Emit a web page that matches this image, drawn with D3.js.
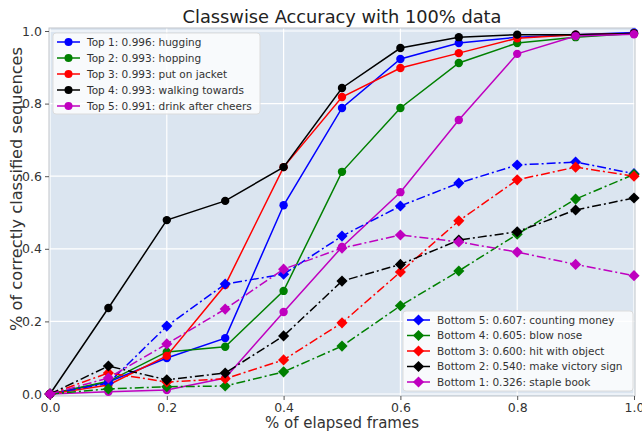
<!DOCTYPE html>
<html><head><meta charset="utf-8">
<script src="https://cdn.jsdelivr.net/npm/d3@7"></script>
<style>body{margin:0;background:#fff}svg{display:block;font-family:"DejaVu Sans",sans-serif}</style>
</head><body><svg id="c" width="642" height="433"></svg>
<script>
const xs = [0,0.1,0.2,0.3,0.4,0.5,0.6,0.7,0.8,0.9,1.0];
const topNames = ["Top 1: 0.996: hugging","Top 2: 0.993: hopping","Top 3: 0.993: put on jacket","Top 4: 0.993: walking towards","Top 5: 0.991: drink after cheers"];
const top1 = [0,0.033,0.099,0.154,0.52,0.788,0.923,0.967,0.983,0.99,0.996];
const top2 = [0,0.035,0.116,0.13,0.284,0.612,0.788,0.912,0.967,0.983,0.993];
const top3 = [0,0.025,0.105,0.30,0.625,0.818,0.898,0.939,0.98,0.99,0.993];
const top4 = [0,0.237,0.479,0.532,0.625,0.843,0.953,0.983,0.99,0.99,0.993];
const top5 = [0,0.006,0.011,0.044,0.226,0.405,0.556,0.755,0.937,0.986,0.991];
const botNames = ["Bottom 5: 0.607: counting money","Bottom 4: 0.605: blow nose","Bottom 3: 0.600: hit with object","Bottom 2: 0.540: make victory sign","Bottom 1: 0.326: staple book"];
const bot5 = [0,0.03,0.187,0.303,0.33,0.435,0.518,0.581,0.631,0.639,0.607];
const bot4 = [0,0.014,0.02,0.022,0.061,0.132,0.243,0.339,0.44,0.537,0.605];
const bot3 = [0,0.058,0.033,0.042,0.094,0.196,0.336,0.477,0.59,0.625,0.600];
const bot2 = [0,0.077,0.039,0.058,0.16,0.311,0.357,0.424,0.447,0.507,0.540];
const bot1 = [0,0.044,0.138,0.234,0.344,0.402,0.438,0.419,0.391,0.357,0.326];
const colors = ["#0000ff","#008000","#ff0000","#000000","#bf00bf"];
const tickVals = [0,0.2,0.4,0.6,0.8,1.0];

const svg = d3.select("#c");
const x = d3.scaleLinear().domain([0,1]).range([50,634]);
const y = d3.scaleLinear().domain([0,1]).range([394,31]);

svg.append("rect").attr("x",49).attr("y",28).attr("width",586).attr("height",368).attr("fill","#dbe5f0");
svg.append("g").selectAll("line").data(tickVals).join("line")
  .attr("x1",d=>x(d)).attr("x2",d=>x(d)).attr("y1",28).attr("y2",396)
  .attr("stroke","#fff").attr("stroke-width",1.2);
svg.append("g").selectAll("line").data(tickVals).join("line")
  .attr("x1",49).attr("x2",635).attr("y1",d=>y(d)).attr("y2",d=>y(d))
  .attr("stroke","#fff").attr("stroke-width",1.2);
svg.append("rect").attr("x",49).attr("y",28).attr("width",586).attr("height",368).attr("fill","none").attr("stroke","#bfc4c9").attr("stroke-width",1);

const xa = svg.append("g").attr("transform","translate(0,396)")
  .call(d3.axisBottom(x).tickValues(tickVals).tickFormat(d3.format(".1f")).tickSize(4).tickPadding(3));
const ya = svg.append("g").attr("transform","translate(49,0)")
  .call(d3.axisLeft(y).tickValues(tickVals).tickFormat(d3.format(".1f")).tickSize(4).tickPadding(3));
[xa,ya].forEach(a=>{a.select(".domain").remove();
  a.selectAll("text").attr("font-size",12.5).attr("fill","#333").attr("font-family","DejaVu Sans");
  a.selectAll("line").attr("stroke","#555");});

const line = d3.line().x((d,i)=>x(xs[i])).y(d=>y(d));
const topSeries = [top1,top2,top3,top4,top5];
const botSeries = [bot5,bot4,bot3,bot2,bot1];
const plot = svg.append("g");
const diamond = d3.symbol().type(d3.symbolSquare).size(62);

topSeries.forEach((s,k)=>{
  plot.append("path").attr("d",line(s)).attr("fill","none").attr("stroke",colors[k]).attr("stroke-width",1.5);
  plot.selectAll(null).data(s).join("circle").attr("cx",(d,i)=>x(xs[i])).attr("cy",d=>y(d)).attr("r",4.2).attr("fill",colors[k]);
});
botSeries.forEach((s,k)=>{
  plot.append("path").attr("d",line(s)).attr("fill","none").attr("stroke",colors[k]).attr("stroke-width",1.5).attr("stroke-dasharray","9,3,2,3");
  plot.selectAll(null).data(s).join("path").attr("d",diamond).attr("transform",(d,i)=>`translate(${x(xs[i])},${y(d)}) rotate(45)`).attr("fill",colors[k]);
});

function legend(x0,y0,w,h,names,step,isTop){
  const g = svg.append("g");
  g.append("rect").attr("x",x0).attr("y",y0).attr("width",w).attr("height",h).attr("rx",3)
    .attr("fill","rgba(255,255,255,0.8)").attr("stroke","#dcdcdc");
  names.forEach((n,k)=>{
    const cy = y0+9+k*step;
    g.append("line").attr("x1",x0+4).attr("x2",x0+27).attr("y1",cy).attr("y2",cy).attr("stroke",colors[k]).attr("stroke-width",1.5);
    if(isTop) g.append("circle").attr("cx",x0+15.5).attr("cy",cy).attr("r",4).attr("fill",colors[k]);
    else g.append("path").attr("d",diamond).attr("transform",`translate(${x0+15.5},${cy}) rotate(45)`).attr("fill",colors[k]);
    g.append("text").attr("x",x0+34).attr("y",cy).attr("dy","0.35em").attr("font-size",10.5).attr("fill","#333").text(n);
  });
}
legend(53,33,207,81,topNames,16,true);
legend(403,311,230,80,botNames,15.5,false);

svg.append("text").attr("x",342).attr("y",23).attr("text-anchor","middle").attr("font-size",17.8).attr("fill","#222").text("Classwise Accuracy with 100% data");
svg.append("text").attr("x",342).attr("y",428).attr("text-anchor","middle").attr("font-size",15).attr("fill","#333").text("% of elapsed frames");
svg.append("text").attr("transform","translate(22,189) rotate(-90)").attr("text-anchor","middle").attr("font-size",16.2).attr("fill","#333").text("% of correctly classified sequences");
</script></body></html>
